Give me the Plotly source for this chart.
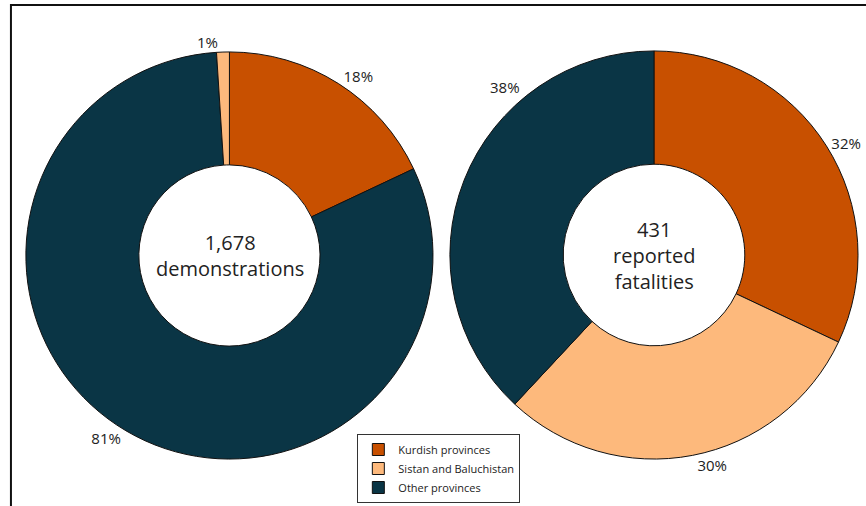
import plotly.graph_objects as go

# Data
demo_labels = ["Kurdish provinces", "Other provinces", "Sistan and Baluchistan"]
demo_values = [302, 1359, 17]
fatal_labels = ["Kurdish provinces", "Sistan and Baluchistan", "Other provinces"]
fatal_values = [138, 129, 164]
colors = {
    "Kurdish provinces": "#C85000",
    "Sistan and Baluchistan": "#FDB97C",
    "Other provinces": "#0A3545",
}
demo_center = "1,678<br>demonstrations"
fatal_center = "431<br>reported<br>fatalities"

W, H = 866, 506

def px_x(v):
    return min(v / W, 1)

def px_y(v):
    return 1 - v / H

# the 38% label of the right chart is placed apart (as in the original layout)
fatal_total = sum(fatal_values)
fatal_text = ["%{percent:.0%}", "%{percent:.0%}", ""]
other_pct = "{:.0f}%".format(100 * fatal_values[2] / fatal_total)

fig = go.Figure()
fig.add_trace(go.Pie(
    labels=fatal_labels, values=fatal_values, sort=False, direction="clockwise",
    rotation=0, hole=0.445,
    marker=dict(colors=[colors[l] for l in fatal_labels], line=dict(color="#111111", width=1)),
    textposition="outside", texttemplate=fatal_text,
    textfont=dict(family="Open Sans", size=15, color="#222222"),
    domain=dict(x=[px_x(452), px_x(862)], y=[px_y(460), px_y(50)]),
    showlegend=True, hoverinfo="label+value+percent",
))
fig.add_trace(go.Pie(
    labels=demo_labels, values=demo_values, sort=False, direction="clockwise",
    rotation=0, hole=0.445,
    marker=dict(colors=[colors[l] for l in demo_labels], line=dict(color="#111111", width=1)),
    textposition="outside", texttemplate="%{percent:.0%}",
    textfont=dict(family="Open Sans", size=15, color="#222222"),
    domain=dict(x=[px_x(26), px_x(435)], y=[px_y(461), px_y(50)]),
    showlegend=True, hoverinfo="label+value+percent",
))

fig.add_annotation(x=px_x(231), y=px_y(256), xref="paper", yref="paper", text=demo_center,
                   xanchor="center", yanchor="middle",
                   showarrow=False, font=dict(family="Open Sans", size=20, color="#222222"))
fig.add_annotation(x=px_x(657), y=px_y(256), xref="paper", yref="paper", text=fatal_center,
                   xanchor="center", yanchor="middle",
                   showarrow=False, font=dict(family="Open Sans", size=20, color="#222222"))
fig.add_annotation(x=px_x(507), y=px_y(87), xref="paper", yref="paper", text=other_pct,
                   xanchor="center", yanchor="middle",
                   showarrow=False, font=dict(family="Open Sans", size=15, color="#222222"))

fig.add_shape(type="rect", xref="paper", yref="paper",
              x0=px_x(11), x1=1.05, y0=-0.05, y1=px_y(5),
              line=dict(color="#111111", width=2), fillcolor="rgba(0,0,0,0)")

fig.update_layout(
    width=W, height=H, margin=dict(l=0, r=0, t=0, b=0),
    paper_bgcolor="white", plot_bgcolor="white",
    font=dict(family="Open Sans", color="#222222"),
    legend=dict(x=px_x(359), y=px_y(503), xanchor="left", yanchor="bottom",
                bordercolor="#333333", borderwidth=1, bgcolor="white",
                font=dict(family="Open Sans", size=11, color="#222222"),
                traceorder="normal", tracegroupgap=0, itemwidth=30),
)

fig.write_html("out.html")
